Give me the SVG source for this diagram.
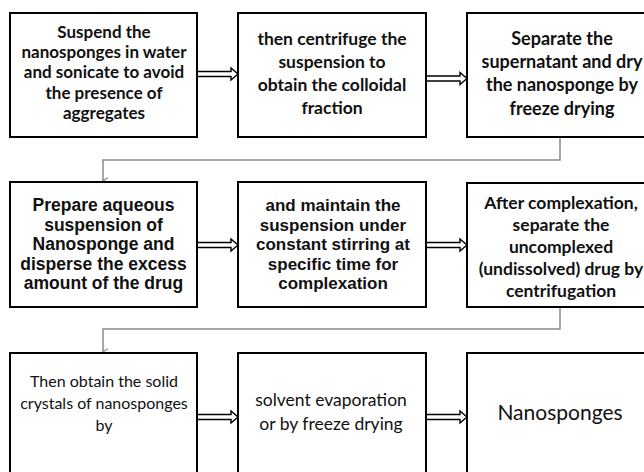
<svg xmlns="http://www.w3.org/2000/svg" width="644" height="472" viewBox="0 0 644 472">
<defs>
<style>
.box{fill:#fff;stroke:#000;stroke-width:2}
.cb{font-family:Lato,"Liberation Sans",sans-serif;font-weight:bold;font-size:17.5px;fill:#111;text-anchor:middle}
.ab{font-family:"Liberation Sans",Arial,sans-serif;font-weight:bold;font-size:17.5px;fill:#111;text-anchor:middle}
.cr{font-family:Lato,"Liberation Sans",sans-serif;font-weight:normal;font-size:17.5px;fill:#111;text-anchor:middle}
.arr{fill:#fff;stroke:#000;stroke-width:1.4;stroke-linejoin:miter}
.elb{fill:none;stroke:#8a8a8a;stroke-width:1.5}
</style>
<marker id="vh" viewBox="0 0 10 10" refX="5" refY="9" markerWidth="8" markerHeight="8" markerUnits="userSpaceOnUse" orient="auto-start-reverse">
<path d="M1,3 L5,9 L9,3" fill="none" stroke="#8a8a8a" stroke-width="1.6"/>
</marker>
</defs>
<rect width="644" height="472" fill="#fff"/>
<g id="connectors">
<path class="arr" d="M197,71.5 L231,71.5 L231,68 L238,74 L231,80 L231,76.5 L197,76.5 Z"/>
<path class="arr" d="M426,76 L460,76 L460,72.5 L467,78.5 L460,84.5 L460,81 L426,81 Z"/>
<path class="arr" d="M197,242.5 L231,242.5 L231,239 L238,245 L231,251 L231,247.5 L197,247.5 Z"/>
<path class="arr" d="M426,242.5 L460,242.5 L460,239 L467,245 L460,251 L460,247.5 L426,247.5 Z"/>
<path class="arr" d="M197,414.5 L231,414.5 L231,411 L238,417 L231,423 L231,419.5 L197,419.5 Z"/>
<path class="arr" d="M426,414.5 L460,414.5 L460,411 L467,417 L460,423 L460,419.5 L426,419.5 Z"/>
<path class="elb" d="M560,137 L560,160 L103,160 L103,181" marker-end="url(#vh)"/>
<path class="elb" d="M560,307 L560,329 L103,329 L103,352" marker-end="url(#vh)"/>
</g>
<g id="n1">
<rect class="box" x="10" y="13" width="187" height="124"/>
<text class="cb" style="font-size:17px"><tspan x="104" y="37.5">Suspend the</tspan><tspan x="104" y="58">nanosponges in water</tspan><tspan x="104" y="78">and sonicate to avoid</tspan><tspan x="104" y="98.5">the presence of</tspan><tspan x="104" y="118.5">aggregates</tspan></text>
</g>
<g id="n2">
<rect class="box" x="238" y="13" width="188" height="124"/>
<text class="cb"><tspan x="332" y="44.5">then centrifuge the</tspan><tspan x="332" y="67.5">suspension  to</tspan><tspan x="332" y="91">obtain the colloidal</tspan><tspan x="332" y="114">fraction</tspan></text>
</g>
<g id="n3">
<rect class="box" x="467" y="13" width="192" height="124"/>
<text class="cb" style="font-size:18px"><tspan x="562" y="44.5">Separate the</tspan><tspan x="562" y="67.5">supernatant and dry</tspan><tspan x="562" y="91">the nanosponge  by</tspan><tspan x="562" y="114.5">freeze drying</tspan></text>
</g>
<g id="n4">
<rect class="box" x="10" y="182" width="187" height="125"/>
<text class="ab"><tspan x="103.5" y="211">Prepare  aqueous</tspan><tspan x="103.5" y="230.5">suspension of</tspan><tspan x="103.5" y="250">Nanosponge and</tspan><tspan x="103.5" y="269.5">disperse the excess</tspan><tspan x="103.5" y="289">amount of the drug</tspan></text>
</g>
<g id="n5">
<rect class="box" x="238" y="182" width="188" height="125"/>
<text class="ab" style="font-size:17px"><tspan x="333" y="211">and maintain the</tspan><tspan x="333" y="230.5">suspension under</tspan><tspan x="333" y="250">constant stirring at</tspan><tspan x="333" y="269.5">specific time for</tspan><tspan x="333" y="289">complexation</tspan></text>
</g>
<g id="n6">
<rect class="box" x="467" y="183" width="192" height="124"/>
<text class="cb"><tspan x="561" y="208.5">After complexation,</tspan><tspan x="561" y="230.5">separate the</tspan><tspan x="561" y="252.5">uncomplexed</tspan><tspan x="561" y="274.5">(undissolved) drug by</tspan><tspan x="561" y="296.5">centrifugation</tspan></text>
</g>
<g id="n7">
<rect class="box" x="10" y="353" width="187" height="130"/>
<text class="cr" style="font-size:16px"><tspan x="104" y="386.5">Then obtain the solid</tspan><tspan x="104" y="409">crystals of nanosponges</tspan><tspan x="104" y="431">by</tspan></text>
</g>
<g id="n8">
<rect class="box" x="238" y="353" width="188" height="130"/>
<text class="cr"><tspan x="331" y="405.5">solvent evaporation</tspan><tspan x="331" y="429.5">or by freeze drying</tspan></text>
</g>
<g id="n9">
<rect class="box" x="467" y="353" width="192" height="130"/>
<text class="cr" style="font-size:21px"><tspan x="560" y="419.5">Nanosponges</tspan></text>
</g>
</svg>
